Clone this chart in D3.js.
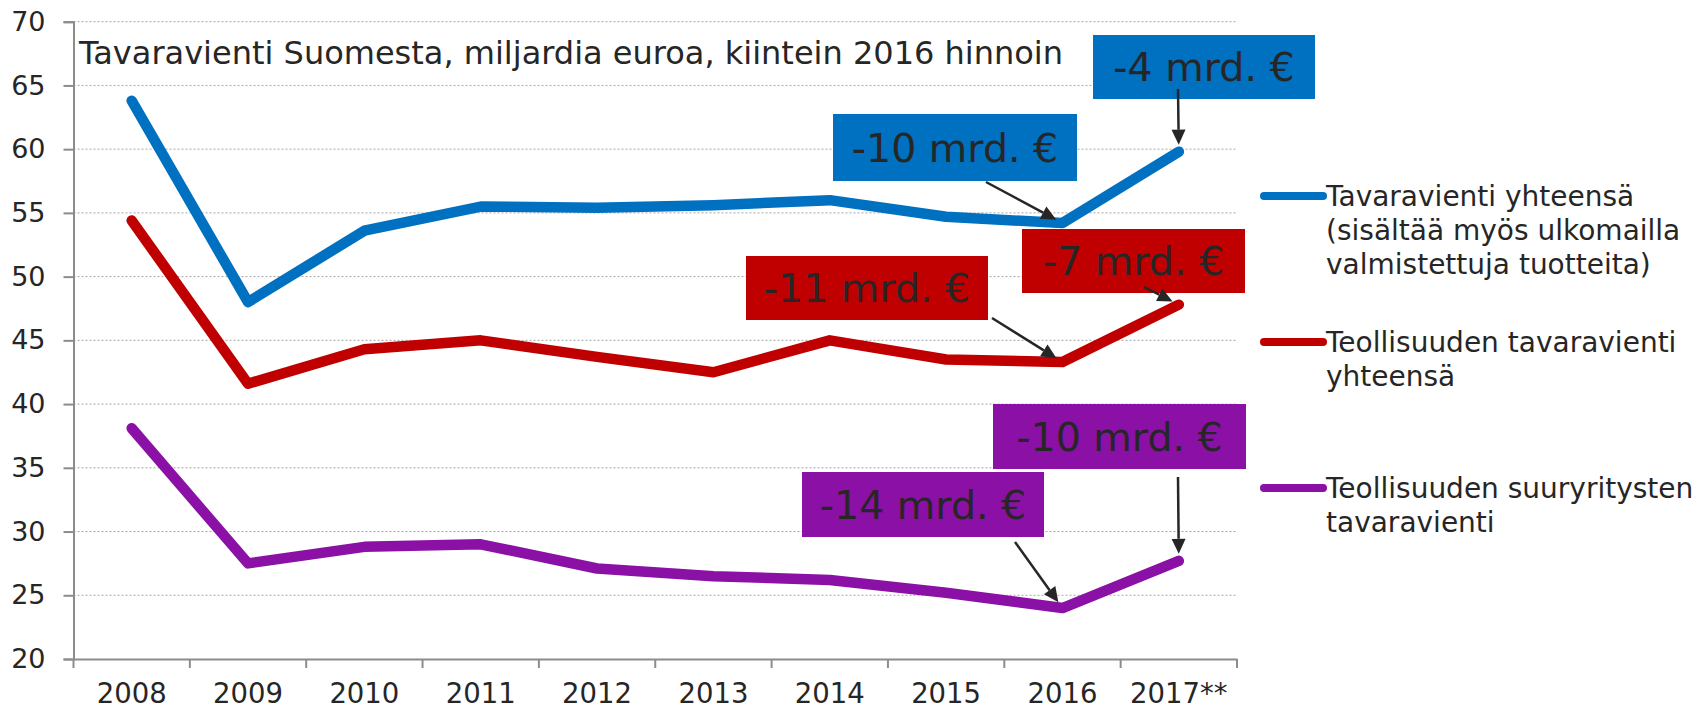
<!DOCTYPE html>
<html>
<head>
<meta charset="utf-8">
<script src="https://cdn.jsdelivr.net/npm/d3@7"></script>
<style>
  body { margin: 0; background: #fff; }
  svg text { font-family: "DejaVu Sans", Verdana, sans-serif; fill: #262626; }
</style>
</head>
<body>
<div id="chart"></div>
<script>
// data
var years = ["2008", "2009", "2010", "2011", "2012", "2013", "2014", "2015", "2016", "2017**"];
var totalExport = [63.8, 48.0, 53.6, 55.5, 55.4, 55.6, 56.0, 54.7, 54.2, 59.8];
var industryExport = [54.4, 41.6, 44.3, 45.0, 43.7, 42.5, 45.0, 43.5, 43.3, 47.8];
var largeFirmExport = [38.1, 27.5, 28.8, 29.0, 27.1, 26.5, 26.2, 25.2, 24.0, 27.7];
var yTicks = [20, 25, 30, 35, 40, 45, 50, 55, 60, 65, 70];
var seriesNames = [
  ["Tavaravienti yhteensä", "(sisältää myös ulkomailla", "valmistettuja tuotteita)"],
  ["Teollisuuden tavaravienti", "yhteensä"],
  ["Teollisuuden suuryritysten", "tavaravienti"]
];
var labelTexts = ["-10 mrd. €", "-4 mrd. €", "-11 mrd. €", "-7 mrd. €", "-14 mrd. €", "-10 mrd. €"];
var labelSeries = [0, 0, 1, 1, 2, 2];
var labelYears = ["2016", "2017**", "2016", "2017**", "2016", "2017**"];
var title = "Tavaravienti Suomesta, miljardia euroa, kiintein 2016 hinnoin";

var colors = ["#0070c0", "#c00000", "#8b10a5"];
var allSeries = [totalExport, industryExport, largeFirmExport];

var svgWidth = 1700;
var svgHeight = 710;
var plot = { left: 73.5, right: 1237, top: 21.7, bottom: 659 };

var svg = d3.select("#chart")
  .append("svg")
  .attr("width", svgWidth)
  .attr("height", svgHeight);

var x = d3.scaleBand().domain(years).range([plot.left, plot.right]);
var y = d3.scaleLinear().domain([20, 70]).range([plot.bottom, plot.top]);

// gridlines
svg.append("g")
  .selectAll("line")
  .data(yTicks.slice(1))
  .enter()
  .append("line")
  .attr("x1", plot.left)
  .attr("x2", plot.right)
  .attr("y1", d => y(d))
  .attr("y2", d => y(d))
  .attr("stroke", "#a6a6a6")
  .attr("stroke-width", 1)
  .attr("stroke-dasharray", "2,2");

// axes
var leftAxis = d3.axisLeft(y).tickValues(yTicks).tickSize(10).tickPadding(18);
var bottomAxis = d3.axisBottom(x).tickSize(0).tickPadding(24);

var yAxisG = svg.append("g")
  .attr("transform", `translate(${plot.left},0)`)
  .call(leftAxis);
yAxisG.selectAll("text").style("font-size", "27px");

var xAxisG = svg.append("g")
  .attr("transform", `translate(0,${plot.bottom})`)
  .call(bottomAxis);
xAxisG.selectAll("text").style("font-size", "27.5px");

// category boundary ticks on the x axis
var bounds = years.map(d => x(d)).concat([plot.right]);
xAxisG.selectAll(".bound")
  .data(bounds)
  .enter()
  .append("line")
  .attr("class", "bound")
  .attr("x1", d => d)
  .attr("x2", d => d)
  .attr("y1", 0)
  .attr("y2", 9)
  .attr("stroke", "#8c8c8c")
  .attr("stroke-width", 2);

svg.selectAll(".domain").attr("stroke", "#8c8c8c").attr("stroke-width", 2);
yAxisG.selectAll(".tick line").attr("stroke", "#8c8c8c").attr("stroke-width", 2);

// title
svg.append("text")
  .attr("x", 79)
  .attr("y", 64)
  .style("font-size", "32px")
  .text(title);

// lines
var line = d3.line()
  .x((d, i) => x(years[i]) + x.bandwidth() / 2)
  .y(d => y(d));

svg.selectAll(".series")
  .data(allSeries)
  .enter()
  .append("path")
  .attr("class", "series")
  .attr("d", d => line(d))
  .attr("fill", "none")
  .attr("stroke", (d, i) => colors[i])
  .attr("stroke-width", 10.5)
  .attr("stroke-linejoin", "round")
  .attr("stroke-linecap", "round");

// annotation boxes: [x, y, w, h] and arrow start
var boxLayout = [
  [833, 114, 244, 67],
  [1093, 35, 222, 64],
  [746, 256, 242, 64],
  [1022, 229, 223, 64],
  [802, 472, 242, 65],
  [993, 404, 253, 65]
];
var arrowStart = [
  [986, 182], [1178, 89], [992, 318], [1144, 287], [1015, 542], [1178, 477]
];

var ann = svg.append("g");
labelTexts.forEach(function(t, i) {
  var b = boxLayout[i];
  var s = labelSeries[i];
  ann.append("rect")
    .attr("x", b[0]).attr("y", b[1])
    .attr("width", b[2]).attr("height", b[3])
    .attr("fill", colors[s]);
  ann.append("text")
    .attr("x", b[0] + b[2] / 2)
    .attr("y", b[1] + b[3] / 2 + 14)
    .attr("text-anchor", "middle")
    .style("font-size", "39.5px")
    .text(t);

  var yi = years.indexOf(labelYears[i]);
  var px = x(labelYears[i]) + x.bandwidth() / 2;
  var py = y(allSeries[s][yi]);
  var sx = arrowStart[i][0], sy = arrowStart[i][1];
  var dx = px - sx, dy = py - sy;
  var len = Math.sqrt(dx * dx + dy * dy);
  var ux = dx / len, uy = dy / len;
  var tipX = px - ux * 7, tipY = py - uy * 7;
  var headLen = 15, headW = 7;
  var bx = tipX - ux * headLen, by = tipY - uy * headLen;
  ann.append("line")
    .attr("x1", sx).attr("y1", sy)
    .attr("x2", bx).attr("y2", by)
    .attr("stroke", "#262626")
    .attr("stroke-width", 2.5);
  ann.append("path")
    .attr("d", `M${tipX},${tipY}L${bx - uy * headW},${by + ux * headW}L${bx + uy * headW},${by - ux * headW}Z`)
    .attr("fill", "#262626");
});

// legend
var legendY = [196, 342, 488];
var legend = svg.append("g");
seriesNames.forEach(function(lines, i) {
  legend.append("line")
    .attr("x1", 1264).attr("x2", 1323)
    .attr("y1", legendY[i]).attr("y2", legendY[i])
    .attr("stroke", colors[i])
    .attr("stroke-width", 8)
    .attr("stroke-linecap", "round");
  lines.forEach(function(l, j) {
    legend.append("text")
      .attr("x", 1326)
      .attr("y", legendY[i] + 9.5 + j * 34)
      .style("font-size", "28px")
      .text(l);
  });
});
</script>
</body>
</html>
